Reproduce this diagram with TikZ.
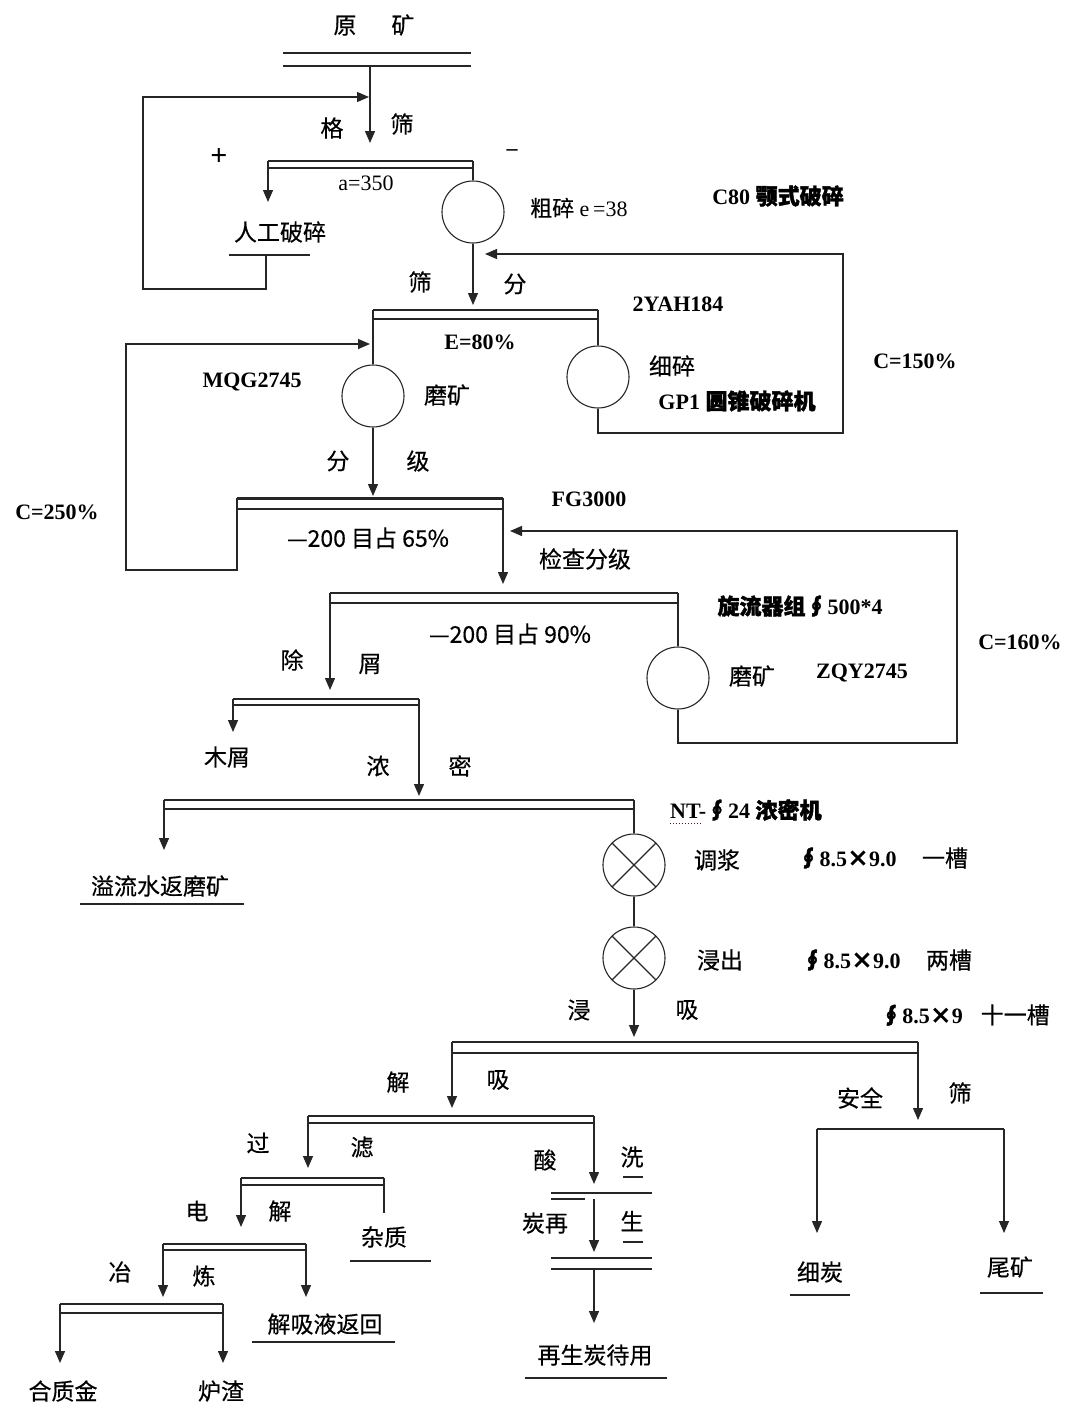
\documentclass[tikz,border=0pt]{standalone}
\usepackage{fontspec}
\setmainfont{Liberation Serif}
\newfontfamily\zh{Noto Sans CJK SC}[FakeBold=0.4]
\newfontfamily\zhb{Noto Sans CJK SC}[FakeBold=1.6]
\usetikzlibrary{arrows.meta}

\tikzset{
  flow/.style={line width=1.3pt, draw=black!85},
  arr/.style={flow, -{Triangle[length=12pt,width=10pt]}},
  mill/.style={circle, draw=black!85, line width=1.1pt, minimum size=62pt, inner sep=0pt},
  tank/.style={mill, path picture={
      \draw[line width=1.1pt,black!85] (path picture bounding box.north west) -- (path picture bounding box.south east)
        (path picture bounding box.north east) -- (path picture bounding box.south west);}},
  lbl/.style={font=\fontsize{23}{27}\selectfont\zh, inner sep=0pt},
  txt/.style={font=\fontsize{22}{26}\selectfont, inner sep=0pt},
  tag/.style={font=\fontsize{22}{26}\selectfont\bfseries, inner sep=0pt},
}

\newcommand{\dscr}[5]{% name, left x, right x, top y, gap
  \coordinate (#1-l) at (#2,#4);
  \coordinate (#1-r) at (#3,#4);
  \draw[flow] (#1-l) -- (#1-r);
  \draw[flow] (#2,#4+#5) -- (#3,#4+#5);}
\newcommand{\prodline}[4]{% name, left x, right x, y
  \coordinate (#1-l) at (#2,#4);
  \coordinate (#1-r) at (#3,#4);
  \draw[flow] (#1-l) -- (#1-r);}

\begin{document}
\begin{tikzpicture}[x=1pt,y=-1pt]
\fill[white] (0,0) rectangle (1070,1411);
\useasboundingbox (0,0) rectangle (1070,1411);

% crushing
\node[lbl] (raw) at (374,25) {原\hspace{35pt}矿};
\dscr{s0}{283}{471}{53}{13}
\coordinate (s0o) at (370,66);
\coordinate (gz) at (370,143);
\draw[arr] (s0o) -- (gz);
\node[lbl] (gzA) at (332,128) {格};
\node[lbl] (gzB) at (402,124) {筛};
\node[tag,font=\fontsize{30}{32}\selectfont\bfseries] (plus) at (219,157) {+};
\node[tag] (minus) at (512,153) {–};

\dscr{s1}{268}{473}{161}{7}
\node[txt] (aa) at (366,183) {a=350};
\node[mill] (cj) at (473,212) {};
\node[txt,anchor=west] (cjA) at (530,208) {{\zh 粗碎}\ e\,=38};
\node[tag] (cjB) at (778,196) {C80 {\zhb 颚式破碎}};
\coordinate (hand) at (268,202);
\draw[arr] (s1-l) -- (hand);
\draw[flow] (s1-r) -- (cj.north);
\node[lbl] (handA) at (280,232) {人工破碎};
\prodline{u0}{229}{310}{255}
\coordinate (m0) at (266,255);
\coordinate (lp0) at (143,289);
\coordinate (lp1) at (369,97);
\draw[arr] (m0) |- (lp0) |- (lp1);

% secondary crushing
\coordinate (cjo) at (473,305);
\draw[arr] (cj.south) -- (cjo);
\node[lbl] (sv1) at (420,282) {筛};
\node[lbl] (sv2) at (515,284) {分};
\dscr{s2}{373}{598}{310}{9}
\node[tag] (s2A) at (678,304) {2YAH184};
\node[tag] (s2B) at (480,342) {E=80\%};
\node[mill] (xs) at (598,377) {};
\node[lbl] (xsA) at (672,366) {细碎};
\node[tag] (xsB) at (737,401) {GP1 {\zhb 圆锥破碎机}};
\node[tag] (c150) at (915,361) {C=150\%};
\draw[flow] (s2-r) -- (xs.north);
\coordinate (lq0) at (843,433);
\coordinate (lq1) at (485,254);
\draw[arr] (xs.south) |- (lq0) |- (lq1);

% primary grinding
\node[mill] (mq) at (373,396) {};
\draw[flow] (s2-l) -- (mq.north);
\node[tag] (mqA) at (252,382) {MQG2745};
\node[lbl] (mqB) at (447,395) {磨矿};
\coordinate (fg) at (373,496);
\draw[arr] (mq.south) -- (fg);
\node[lbl] (fgA) at (338,461) {分};
\node[lbl] (fgB) at (418,461) {级};
\coordinate (s3-l) at (237,498);
\coordinate (s3-r) at (503,498);
\draw[flow,line width=3pt] (s3-l) -- (s3-r);
\draw[flow] (237,509) -- (503,509);
\coordinate (lr0) at (126,570);
\coordinate (lr1) at (370,344);
\draw[arr] (s3-l) |- (lr0) |- (lr1);
\node[tag] (c250) at (57,512) {C=250\%};
\node[tag] (s3A) at (589,499) {FG3000};
\node[lbl] (s3B) at (368,538) {—200 目占 65\%};
\node[lbl] (s3C) at (585,559) {检查分级};
\coordinate (cy) at (503,584);
\draw[arr] (s3-r) -- (cy);

% cyclones and regrinding
\dscr{s4}{330}{678}{593}{10}
\node[tag] (s4A) at (800,606) {{\zhb 旋流器组∮}500*4};
\node[lbl] (s4B) at (510,634) {—200 目占 90\%};
\node[mill] (zq) at (678,678) {};
\draw[flow] (s4-r) -- (zq.north);
\node[lbl] (zqA) at (752,676) {磨矿};
\node[tag] (zqB) at (862,673) {ZQY2745};
\node[tag] (c160) at (1020,642) {C=160\%};
\coordinate (ls0) at (957,743);
\coordinate (ls1) at (510,531);
\draw[arr] (zq.south) |- (ls0) |- (ls1);

% trash screen, thickener
\coordinate (ws) at (330,690);
\draw[arr] (s4-l) -- (ws);
\node[lbl] (wsA) at (292,660) {除};
\node[lbl] (wsB) at (370,664) {屑};
\dscr{s5}{233}{419}{699}{6}
\coordinate (wood) at (233,732);
\draw[arr] (s5-l) -- (wood);
\node[lbl] (woodA) at (227,757) {木屑};
\coordinate (th) at (419,796);
\draw[arr] (s5-r) -- (th);
\node[lbl] (thA) at (378,766) {浓};
\node[lbl] (thB) at (460,766) {密};
\dscr{s6}{164}{634}{800}{9}
\coordinate (ov) at (164,850);
\draw[arr] (s6-l) -- (ov);
\node[lbl] (ovA) at (160,886) {溢流水返磨矿};
\prodline{u1}{80}{244}{904}
\node[tag,anchor=west] (s6A) at (670,810) {NT-{\zhb ∮}24 {\zhb 浓密机}};
\draw[red!50!black,dotted,line width=1pt] (670,823) -- (703,823);

% leaching
\node[tank] (tj) at (634,865) {};
\draw[flow] (s6-r) -- (tj.north);
\node[lbl] (tjA) at (717,860) {调浆};
\node[tag] (tjB) at (847,858) {{\zhb ∮}8.5{\zh ×}9.0};
\node[lbl] (tjC) at (945,858) {一槽};
\node[tank] (jc) at (634,958) {};
\draw[flow] (tj.south) -- (jc.north);
\node[lbl] (jcA) at (720,960) {浸出};
\node[tag] (jcB) at (851,960) {{\zhb ∮}8.5{\zh ×}9.0};
\node[lbl] (jcC) at (949,960) {两槽};

% adsorption
\coordinate (ad) at (634,1037);
\draw[arr] (jc.south) -- (ad);
\node[lbl] (adA) at (579,1010) {浸};
\node[lbl] (adB) at (687,1010) {吸};
\node[txt] (adC) at (965,1015) {\textbf{{\zhb ∮}8.5{\zh ×}9}\hspace{18pt}{\zh\fontsize{23}{27}\selectfont 十一槽}};
\dscr{s7}{452}{918}{1042}{11}
\coordinate (jx) at (452,1108);
\draw[arr] (s7-l) -- (jx);
\node[lbl] (jxA) at (398,1082) {解};
\node[lbl] (jxB) at (498,1080) {吸};
\coordinate (aq) at (918,1120);
\draw[arr] (s7-r) -- (aq);
\node[lbl] (aqA) at (860,1098) {安全};
\node[lbl] (aqB) at (960,1093) {筛};
\coordinate (s8-l) at (817,1129);
\coordinate (s8-r) at (1004,1129);
\draw[flow] (s8-l) -- (s8-r);
\coordinate (fc) at (817,1233);
\coordinate (tl) at (1004,1233);
\draw[arr] (s8-l) -- (fc);
\draw[arr] (s8-r) -- (tl);
\node[lbl] (fcA) at (820,1272) {细炭};
\prodline{u2}{790}{850}{1295}
\node[lbl] (tlA) at (1010,1267) {尾矿};
\prodline{u3}{980}{1043}{1293}

% desorption, carbon regeneration
\dscr{s9}{308}{594}{1116}{7}
\coordinate (gl) at (308,1168);
\draw[arr] (s9-l) -- (gl);
\node[lbl] (glA) at (258,1143) {过};
\node[lbl] (glB) at (362,1147) {滤};
\coordinate (sx) at (594,1184);
\draw[arr] (s9-r) -- (sx);
\node[lbl] (sxA) at (545,1160) {酸};
\node[lbl] (sxB) at (632,1157) {洗};
\prodline{u4}{623}{643}{1177}
\coordinate (rg-l) at (551,1193);
\coordinate (rg-r) at (652,1193);
\draw[flow] (rg-l) -- (rg-r);
\draw[flow] (551,1199) -- (585,1199);
\coordinate (rg) at (594,1199);
\coordinate (rgo) at (594,1252);
\draw[arr] (rg) -- (rgo);
\node[lbl] (rgA) at (545,1223) {炭再};
\node[lbl] (rgB) at (632,1221) {生};
\prodline{u5}{623}{643}{1242}
\dscr{s10}{551}{652}{1258}{11}
\coordinate (s10o) at (594,1269);
\coordinate (rc) at (594,1323);
\draw[arr] (s10o) -- (rc);
\node[lbl] (rcA) at (595,1355) {再生炭待用};
\prodline{u6}{525}{667}{1378}

% electrowinning, smelting
\dscr{s11}{241}{384}{1178}{7}
\coordinate (zz) at (384,1213);
\draw[flow] (s11-r) -- (zz);
\node[lbl] (zzA) at (384,1237) {杂质};
\prodline{u7}{350}{431}{1261}
\coordinate (dj) at (241,1227);
\draw[arr] (s11-l) -- (dj);
\node[lbl] (djA) at (197,1211) {电};
\node[lbl] (djB) at (280,1211) {解};
\dscr{s12}{163}{306}{1244}{6}
\coordinate (yl) at (163,1297);
\draw[arr] (s12-l) -- (yl);
\node[lbl] (ylA) at (120,1272) {冶};
\node[lbl] (ylB) at (204,1276) {炼};
\coordinate (fh) at (306,1297);
\draw[arr] (s12-r) -- (fh);
\node[lbl] (fhA) at (325,1324) {解吸液返回};
\prodline{u8}{252}{395}{1342}
\dscr{s13}{60}{223}{1304}{9}
\coordinate (au) at (60,1363);
\coordinate (sl) at (223,1363);
\draw[arr] (s13-l) -- (au);
\draw[arr] (s13-r) -- (sl);
\node[lbl] (auA) at (63,1391) {合质金};
\node[lbl] (slA) at (221,1391) {炉渣};
\end{tikzpicture}
\end{document}
